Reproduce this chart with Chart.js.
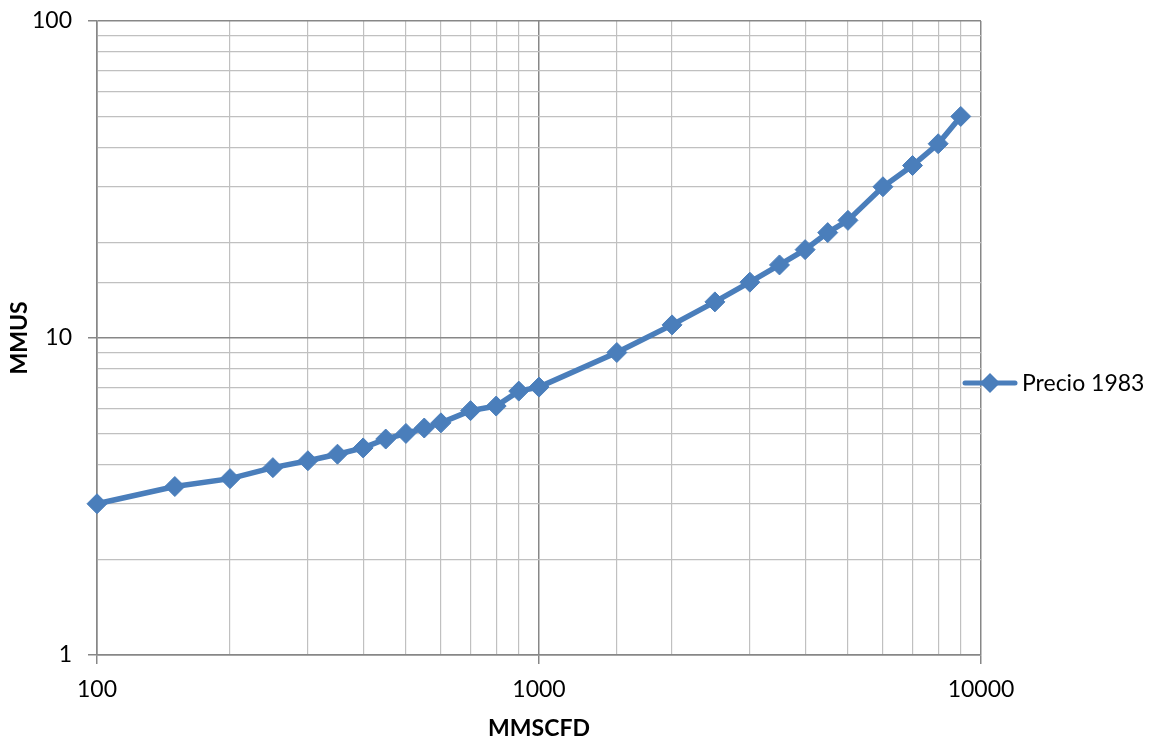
<!DOCTYPE html>
<html>
<head>
<meta charset="utf-8">
<script src="https://cdn.jsdelivr.net/npm/chart.js@4/dist/chart.umd.min.js"></script>
<style>
  html, body { margin: 0; padding: 0; background: #fff; }
  #wrap { width: 1160px; height: 744px; }
</style>
</head>
<body>
<div id="wrap"><canvas id="lineChart" width="1160" height="744"></canvas></div>
<script>
// Data
var caudal = [100, 150, 200, 250, 300, 350, 400, 450, 500, 550, 600, 700, 800, 900, 1000,
              1500, 2000, 2500, 3000, 3500, 4000, 4500, 5000, 6000, 7000, 8000, 9000];
var precio1983 = [3.0, 3.4, 3.6, 3.9, 4.1, 4.3, 4.5, 4.8, 5.0, 5.2, 5.4, 5.9, 6.1, 6.8, 7.0,
                  9.0, 11, 13, 15, 17, 19, 21.5, 23.5, 30, 35, 41, 50];
var serieLabel = 'Precio 1983';
var xRange = [100, 10000];
var yRange = [1, 100];

var lineColor = '#4A7EBB';
var majorGrid = '#878787';
var minorGrid = '#C0C0C0';
var fontName = 'Lato, "Open Sans", sans-serif';

function isDecade(v) {
    var l = Math.log10(v);
    return Math.abs(l - Math.round(l)) < 1e-9;
}

var points = [];
for (var i = 0; i < caudal.length; i++) {
    points.push({ x: caudal[i], y: precio1983[i] });
}

// Legend drawn by hand, it sits partly over the plot like in the original
var sideLegend = {
    id: 'sideLegend',
    afterDraw: function (chart) {
        var ctx = chart.ctx;
        var y = 383;
        ctx.save();
        ctx.strokeStyle = lineColor;
        ctx.lineWidth = 5;
        ctx.lineCap = 'round';
        ctx.beginPath();
        ctx.moveTo(965, y);
        ctx.lineTo(1015, y);
        ctx.stroke();
        ctx.fillStyle = lineColor;
        ctx.beginPath();
        ctx.moveTo(980, y); ctx.lineTo(990, y - 10); ctx.lineTo(1000, y); ctx.lineTo(990, y + 10);
        ctx.closePath();
        ctx.fill();
        ctx.fillStyle = '#000';
        ctx.font = '23px ' + fontName;
        ctx.textBaseline = 'middle';
        ctx.fillText(serieLabel, 1022, y + 1);
        ctx.restore();
    }
};

function gridOpts() {
    return {
        color: function (c) { return isDecade(c.tick.value) ? majorGrid : minorGrid; },
        lineWidth: function (c) { return isDecade(c.tick.value) ? 1.5 : 1.2; },
        tickColor: function (c) { return isDecade(c.tick.value) ? majorGrid : 'rgba(0,0,0,0)'; },
        tickLength: 9
    };
}

var ctx = document.getElementById('lineChart').getContext('2d');
var myChart = new Chart(ctx, {
    type: 'line',
    data: {
        datasets: [{
            label: serieLabel,
            data: points,
            borderColor: lineColor,
            backgroundColor: lineColor,
            borderWidth: 5.5,
            pointStyle: 'rectRot',
            pointRadius: 10,
            pointHoverRadius: 10,
            pointBorderWidth: 1,
            tension: 0,
            clip: false
        }]
    },
    plugins: [sideLegend],
    options: {
        responsive: false,
        animation: false,
        layout: { padding: { top: 21, right: 179, left: 0, bottom: 0 } },
        plugins: {
            legend: { display: false },
            tooltip: { enabled: false }
        },
        scales: {
            x: {
                type: 'logarithmic',
                min: xRange[0],
                max: xRange[1],
                border: { color: majorGrid, width: 1.5 },
                grid: gridOpts(),
                ticks: {
                    autoSkip: false,
                    maxRotation: 0,
                    padding: 12,
                    color: '#000',
                    font: { family: fontName, size: 23 },
                    callback: function (v) { return isDecade(v) ? String(Math.round(v)) : ''; }
                },
                title: {
                    display: true,
                    text: 'MMSCFD',
                    color: '#000',
                    font: { family: fontName, size: 23, weight: 'bold' },
                    padding: { top: 4, bottom: 2 }
                },
                afterFit: function (s) {
                    s.height = 89;
                    s.paddingLeft = 0;
                    s.paddingRight = 0;
                }
            },
            y: {
                type: 'logarithmic',
                min: yRange[0],
                max: yRange[1],
                border: { color: majorGrid, width: 1.5 },
                grid: gridOpts(),
                ticks: {
                    autoSkip: false,
                    padding: 16,
                    color: '#000',
                    font: { family: fontName, size: 23 },
                    callback: function (v) { return isDecade(v) ? String(Math.round(v)) : ''; }
                },
                title: {
                    display: true,
                    text: 'MMUS',
                    color: '#000',
                    font: { family: fontName, size: 23, weight: 'bold' },
                    padding: { top: 6, bottom: 6 }
                },
                afterFit: function (s) {
                    s.width = 97;
                    s.paddingTop = 0;
                    s.paddingBottom = 0;
                }
            }
        }
    }
});
</script>
</body>
</html>
